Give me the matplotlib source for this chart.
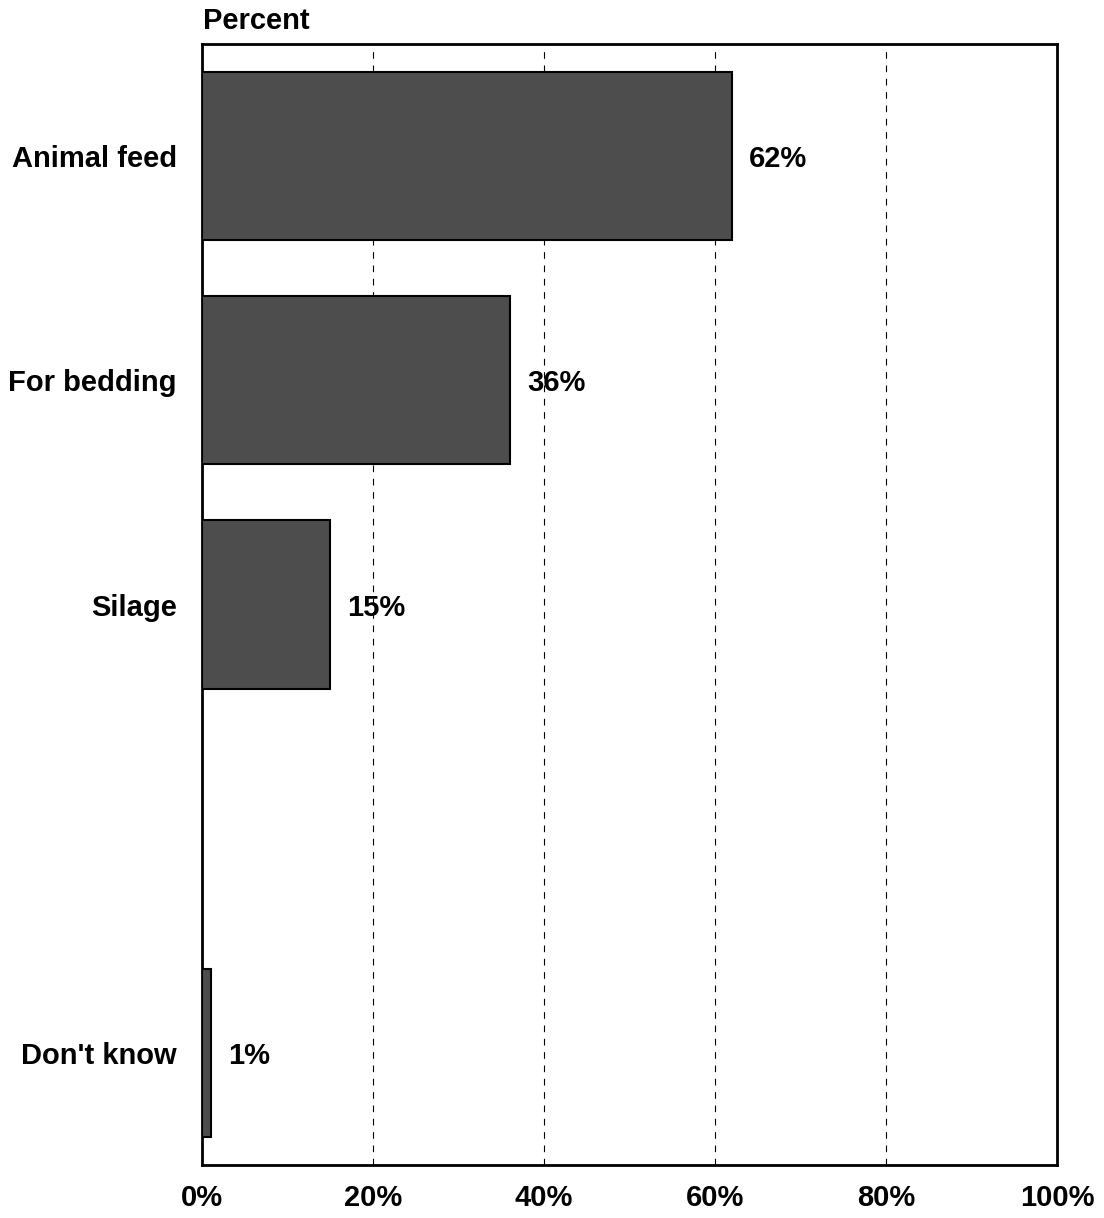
import matplotlib
matplotlib.use("Agg")
import matplotlib.pyplot as plt
from matplotlib.ticker import FixedLocator

plt.rcParams['font.family'] = ['Liberation Sans', 'DejaVu Sans']

categories = ["Animal feed", "For bedding", "Silage", "", "Don't know"]
values = [62, 36, 15, None, 1]
xticks = [0, 20, 40, 60, 80, 100]
xtick_labels = ["0%", "20%", "40%", "60%", "80%", "100%"]

FS = 21

fig = plt.figure(figsize=(11.04, 12.18), dpi=100)
ax = fig.add_axes([202 / 1104, 1 - 1165 / 1218, 855 / 1104, 1121 / 1218])

pos = list(range(len(categories)))
for p, v in zip(pos, values):
    if v is None:
        continue
    ax.barh(p, v, height=0.75, color='#4d4d4d', edgecolor='black',
            linewidth=1.5, zorder=3)
    ax.text(v + 2, p, f"{v}%", va='center_baseline', ha='left',
            fontsize=FS, fontweight='bold', zorder=4)

ax.set_xlim(0, 100)
ax.set_ylim(len(categories) - 0.5, -0.5)
ax.set_yticks(pos)
ax.set_yticklabels(categories, fontsize=FS, fontweight='bold')
ax.xaxis.set_major_locator(FixedLocator(xticks))
ax.set_xticklabels(xtick_labels, fontsize=FS, fontweight='bold')
ax.tick_params(axis='both', length=0)
ax.tick_params(axis='x', pad=14)
ax.tick_params(axis='y', pad=18)
ax.grid(axis='x', linestyle=(0, (6, 6)), color='black', linewidth=0.8,
        zorder=1)
for s in ax.spines.values():
    s.set_linewidth(2)
    s.set_color('black')

fig.text(203 / 1104, 1 - 21 / 1218, "Percent", fontsize=FS,
         fontweight='bold', va='center', ha='left')

fig.savefig("out.png", dpi=100)
